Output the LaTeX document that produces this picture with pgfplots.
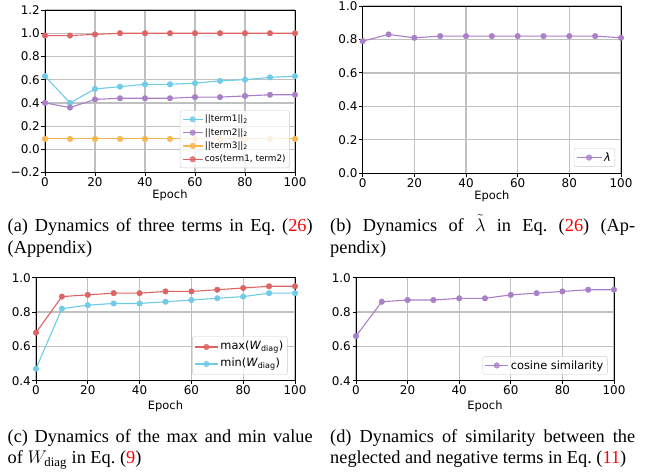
\RequirePackage{fix-cm}
\documentclass[border=0pt]{standalone}
\usepackage{pgfplots}
\pgfplotsset{compat=1.18}
\usepackage{fontspec}
\setmainfont{Liberation Serif}
\newfontfamily\djv{DejaVu Sans}

\definecolor{cblue}{HTML}{6FCBE8}
\definecolor{cpurple}{HTML}{A97FC8}
\definecolor{corange}{HTML}{F6B650}
\definecolor{cred}{HTML}{DE6464}
\definecolor{gridc}{HTML}{C0C0C0}

\pgfplotsset{
  myax/.style={
    scale only axis,
    xmin=0, xmax=100,
    xtick={0,20,40,60,80,100},
    xticklabels={0,20,40,60,80,100},
    grid=major,
    major grid style={line width=1.2bp, color=gridc},
    axis line style={line width=0.9bp, black},
    tick align=outside, xtick pos=left, ytick pos=left,
    major tick length=3.5bp,
    tick style={black, line width=0.9bp},
    /pgf/number format/assume math mode=true,
    tick label style={font=\djv\fontsize{12}{14}\selectfont, inner sep=1.5bp},
    xlabel=Epoch,
    xlabel style={font=\djv\fontsize{11.5}{13}\selectfont, at={(axis description cs:0.5,0)}, anchor=center, yshift=-23bp, inner sep=0pt},
    clip mode=individual,
    legend cell align=left,
    legend style={draw=black!20, rounded corners=2bp, fill=white, fill opacity=0.8, text opacity=1,
      inner xsep=2bp, inner ysep=2bp, row sep=0bp,
      at={(1,0)}, anchor=south east, xshift=-5.5bp, yshift=5bp},
    every axis plot/.append style={line width=1.1bp, mark=*, mark size=2.8bp, mark options={solid, line width=0.4bp}},
  },
}

\begin{document}
\begin{tikzpicture}
\useasboundingbox (0,0) rectangle (647bp,-474bp);

% (a)
\begin{axis}[myax, at={(45bp,-172.6bp)}, anchor=south west,
  width=250bp, height=162.6bp,
  ymin=-0.2, ymax=1.2,
  ytick={-0.2,0,0.2,0.4,0.6,0.8,1.0,1.2},
  yticklabels={−0.2,0.0,0.2,0.4,0.6,0.8,1.0,1.2},
  legend style={font=\djv\fontsize{8.9}{10}\selectfont, nodes={inner sep=1.6bp, text height=7.4bp, text depth=2.7bp}, yshift=-0.5bp},
  legend image code/.code={\draw[mark repeat=2,mark phase=2] plot coordinates {(0bp,0bp)(10bp,0bp)(20bp,0bp)};},
]
\addplot[color=cblue] coordinates {(0,0.63)(10,0.40)(20,0.52)(30,0.54)(40,0.56)(50,0.56)(60,0.57)(70,0.59)(80,0.60)(90,0.62)(100,0.63)};
\addlegendentry{||term1||\textsubscript{2}}
\addplot[color=cpurple] coordinates {(0,0.40)(10,0.36)(20,0.43)(30,0.44)(40,0.44)(50,0.44)(60,0.45)(70,0.45)(80,0.46)(90,0.47)(100,0.47)};
\addlegendentry{||term2||\textsubscript{2}}
\addplot[color=corange] coordinates {(0,0.09)(10,0.09)(20,0.09)(30,0.09)(40,0.09)(50,0.09)(60,0.09)(70,0.09)(80,0.09)(90,0.09)(100,0.09)};
\addlegendentry{||term3||\textsubscript{2}}
\addplot[color=cred] coordinates {(0,0.98)(10,0.98)(20,0.99)(30,1.0)(40,1.0)(50,1.0)(60,1.0)(70,1.0)(80,1.0)(90,1.0)(100,1.0)};
\addlegendentry{cos(term1, term2)}
\end{axis}

% (b)
\begin{axis}[myax, at={(362.7bp,-173.3bp)}, anchor=south west,
  width=258.3bp, height=167.3bp,
  ymin=0, ymax=1.0,
  ytick={0,0.2,0.4,0.6,0.8,1.0},
  yticklabels={0.0,0.2,0.4,0.6,0.8,1.0},
  legend style={font=\djv\fontsize{11.4}{13}\selectfont, nodes={inner sep=2bp}, xshift=-0.5bp, yshift=1.5bp},
  legend image code/.code={\draw[mark repeat=2,mark phase=2] plot coordinates {(0bp,0bp)(12.5bp,0bp)(25bp,0bp)};},
]
\addplot[color=cpurple] coordinates {(0,0.79)(10,0.83)(20,0.81)(30,0.82)(40,0.82)(50,0.82)(60,0.82)(70,0.82)(80,0.82)(90,0.82)(100,0.81)};
\addlegendentry{\textit{λ}}
\end{axis}

% (c)
\begin{axis}[myax, at={(36bp,-380.7bp)}, anchor=south west,
  width=259bp, height=103bp,
  ymin=0.4, ymax=1.0,
  ytick={0.4,0.6,0.8,1.0},
  yticklabels={0.4,0.6,0.8,1.0},
  xlabel style={yshift=-3bp},
  legend style={font=\djv\fontsize{11.4}{13}\selectfont, nodes={inner sep=2bp, text height=9bp, text depth=4bp}, xshift=-2bp, yshift=1bp},
  legend image code/.code={\draw[mark repeat=2,mark phase=2] plot coordinates {(0bp,0bp)(11.5bp,0bp)(23bp,0bp)};},
]
\addplot[color=cred] coordinates {(0,0.68)(10,0.89)(20,0.90)(30,0.91)(40,0.91)(50,0.92)(60,0.92)(70,0.93)(80,0.94)(90,0.95)(100,0.95)};
\addlegendentry{max(\textit{W}\textsubscript{diag})}
\addplot[color=cblue] coordinates {(0,0.47)(10,0.82)(20,0.84)(30,0.85)(40,0.85)(50,0.86)(60,0.87)(70,0.88)(80,0.89)(90,0.91)(100,0.91)};
\addlegendentry{min(\textit{W}\textsubscript{diag})}
\end{axis}

% (d)
\begin{axis}[myax, at={(356bp,-380.7bp)}, anchor=south west,
  width=258bp, height=103bp,
  ymin=0.4, ymax=1.0,
  ytick={0.4,0.6,0.8,1.0},
  yticklabels={0.4,0.6,0.8,1.0},
  xlabel style={yshift=-3bp},
  legend style={font=\djv\fontsize{11.4}{13}\selectfont, nodes={inner sep=2bp}, xshift=-1bp, yshift=1bp},
  legend image code/.code={\draw[mark repeat=2,mark phase=2] plot coordinates {(0bp,0bp)(11.5bp,0bp)(23bp,0bp)};},
]
\addplot[color=cpurple] coordinates {(0,0.66)(10,0.86)(20,0.87)(30,0.87)(40,0.88)(50,0.88)(60,0.90)(70,0.91)(80,0.92)(90,0.93)(100,0.93)};
\addlegendentry{cosine similarity}
\end{axis}

% captions
\begin{scope}[every node/.style={anchor=base west, inner sep=0pt, font=\fontsize{18.4}{21.7}\selectfont}]
\node at (7.5bp,-231.7bp) {\parbox[t]{305bp}{(a) Dynamics of three terms in Eq.~(\textcolor{red}{26})\linebreak (Appendix)}};
\node at (330bp,-231.7bp) {\parbox[t]{305bp}{(b) Dynamics of $\tilde{\lambda}$ in Eq.~(\textcolor{red}{26}) (Ap-\linebreak pendix)}};
\node at (7.5bp,-442bp) {\parbox[t]{305bp}{(c) Dynamics of the max and min value\linebreak of $W_{\mathrm{diag}}$ in Eq.~(\textcolor{red}{9})}};
\node at (330bp,-442bp) {\parbox[t]{305bp}{(d) Dynamics of similarity between the\linebreak neglected and negative terms in Eq.~(\textcolor{red}{11})}};
\end{scope}
\end{tikzpicture}
\end{document}
